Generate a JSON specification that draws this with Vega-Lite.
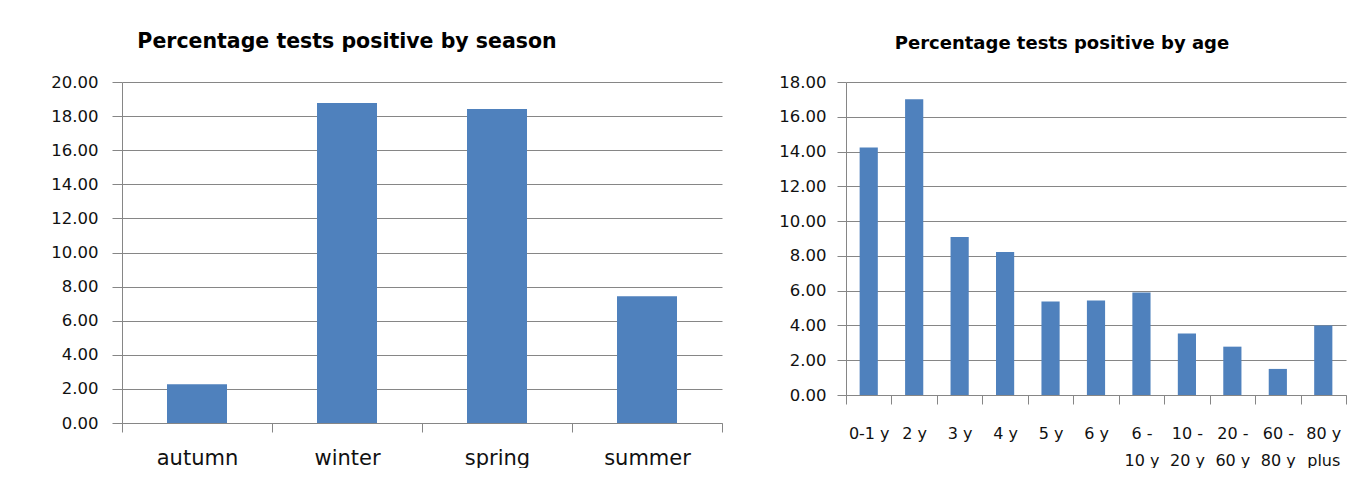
{
  "$schema": "https://vega.github.io/schema/vega-lite/v6.json",
  "background": "white",
  "padding": {"left": 50, "top": 31, "right": 0, "bottom": 0},
  "spacing": 55,
  "config": {
    "font": "DejaVu Sans",
    "view": {"stroke": null},
    "axis": {
      "labelFont": "DejaVu Sans",
      "labelFontSize": 16.5,
      "labelColor": "#111111",
      "domainColor": "#868686",
      "tickColor": "#868686",
      "gridColor": "#868686",
      "gridOpacity": 1,
      "title": null
    },
    "title": {"font": "DejaVu Sans", "fontSize": 20.5, "fontWeight": "bold", "color": "#000000", "offset": 22}
  },
  "hconcat": [
    {
      "width": 600,
      "height": 341,
      "title": {"text": "Percentage tests positive by season", "dx": -75},
      "data": {"values": [
        {"season": "autumn", "pct": 2.28},
        {"season": "winter", "pct": 18.77},
        {"season": "spring", "pct": 18.42},
        {"season": "summer", "pct": 7.43}
      ]},
      "mark": {"type": "bar", "color": "#4F81BD", "width": {"band": 0.4}},
      "encoding": {
        "x": {"field": "season", "type": "nominal", "sort": null,
          "scale": {"paddingInner": 0, "paddingOuter": 0},
          "axis": {"labelAngle": 0, "tickBand": "extent", "tickSize": 9, "labelPadding": 15, "labelFontSize": 21}},
        "y": {"field": "pct", "type": "quantitative",
          "scale": {"domain": [0, 20], "nice": false},
          "axis": {"values": [0, 2, 4, 6, 8, 10, 12, 14, 16, 18, 20], "format": ".2f", "tickSize": 10, "labelPadding": 14}}
      }
    },
    {
      "width": 500,
      "height": 313,
      "title": {"text": "Percentage tests positive by age", "dx": -34, "dy": 6, "fontSize": 18, "offset": 27},
      "data": {"values": [
        {"age": "0-1 y", "pct": 14.24},
        {"age": "2 y", "pct": 17.01},
        {"age": "3 y", "pct": 9.09},
        {"age": "4 y", "pct": 8.22},
        {"age": "5 y", "pct": 5.38},
        {"age": "6 y", "pct": 5.44},
        {"age": "6 - 10 y", "pct": 5.9},
        {"age": "10 - 20 y", "pct": 3.53},
        {"age": "20 - 60 y", "pct": 2.78},
        {"age": "60 - 80 y", "pct": 1.5},
        {"age": "80 y plus", "pct": 3.99}
      ]},
      "mark": {"type": "bar", "color": "#4F81BD", "width": {"band": 0.4}},
      "encoding": {
        "x": {"field": "age", "type": "nominal", "sort": null,
          "scale": {"paddingInner": 0, "paddingOuter": 0},
          "axis": {"labelAngle": 0, "tickBand": "extent", "tickSize": 9, "labelPadding": 21, "labelFontSize": 16, "labelLineHeight": 27,
            "labelExpr": "datum.label == '80 y plus' ? ['80 y', 'plus'] : indexof(datum.label, ' - ') > 0 ? [substring(datum.label, 0, indexof(datum.label, ' - ') + 2), substring(datum.label, indexof(datum.label, ' - ') + 3)] : datum.label"}},
        "y": {"field": "pct", "type": "quantitative",
          "scale": {"domain": [0, 18], "nice": false},
          "axis": {"values": [0, 2, 4, 6, 8, 10, 12, 14, 16, 18], "format": ".2f", "tickSize": 9, "labelPadding": 11}}
      }
    }
  ]
}
